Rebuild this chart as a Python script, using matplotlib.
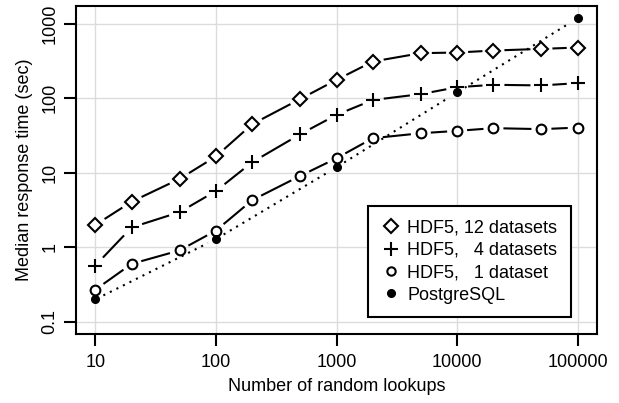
import numpy as np
import matplotlib
matplotlib.use('Agg')
import matplotlib.pyplot as plt
from matplotlib.lines import Line2D

plt.rcParams['font.family'] = ['Liberation Sans', 'DejaVu Sans']
plt.rcParams['font.size'] = 13

# data
lookups = [10, 20, 50, 100, 200, 500, 1000, 2000, 5000, 10000, 20000, 50000, 100000]
hdf5_12 = [2.0, 4.1, 8.3, 16.6, 45, 98, 177, 312, 404, 412, 438, 461, 481]
hdf5_4 = [0.57, 1.85, 2.97, 5.7, 13.9, 33, 60, 95, 114, 141, 152, 149, 160]
hdf5_1 = [0.27, 0.60, 0.91, 1.68, 4.3, 9.1, 15.7, 29.2, 34, 36.6, 39.8, 38.6, 40.5]
pg_lookups = [10, 100, 1000, 10000, 100000]
pg = [0.20, 1.29, 11.9, 120, 1192]

labels = ['HDF5, 12 datasets', 'HDF5,   4 datasets', 'HDF5,   1 dataset', 'PostgreSQL']
xticks = [10, 100, 1000, 10000, 100000]
yticks = [0.1, 1, 10, 100, 1000]

fig = plt.figure(figsize=(6.19, 4.03), dpi=100)
ax = fig.add_axes([0.1228, 0.1712, 0.8417, 0.8139])
ax.set_xscale('log')
ax.set_yscale('log')

# R style limits: data range plus 4% on each side (in log space)
def padded(lo, hi):
    a, b = np.log10(lo), np.log10(hi)
    p = (b - a) * 0.04
    return 10 ** (a - p), 10 ** (b + p)

ax.set_xlim(*padded(min(lookups), max(lookups)))
ax.set_ylim(*padded(0.1, max(pg)))

ax.grid(True, color='#dcdcdc', linewidth=1)
ax.set_axisbelow(True)


def gapped(xs, ys, gap, **kw):
    # like R type="b": segments stop short of the points
    pts = ax.transData.transform(np.column_stack([xs, ys]))
    inv = ax.transData.inverted()
    for p0, p1 in zip(pts[:-1], pts[1:]):
        d = p1 - p0
        length = np.hypot(d[0], d[1])
        if length <= 2 * gap:
            continue
        u = d / length
        seg = inv.transform([p0 + u * gap, p1 - u * gap])
        ax.plot(seg[:, 0], seg[:, 1], **kw)


lw = 1.5
gapped(lookups, hdf5_12, 11, color='black', lw=lw, solid_capstyle='butt', zorder=3)
gapped(lookups, hdf5_4, 11, color='black', lw=lw, solid_capstyle='butt', zorder=3)
gapped(lookups, hdf5_1, 10, color='black', lw=lw, solid_capstyle='butt', zorder=3)
gapped(pg_lookups, pg, 9, color='black', lw=1.5, linestyle=(0, (1, 2.5)), zorder=3)

ax.plot(lookups, hdf5_12, ls='none', marker='D', ms=7.5, mfc='white', mec='black', mew=1.5, zorder=4)
ax.plot(lookups, hdf5_4, ls='none', marker='+', ms=10.5, mec='black', mew=1.5, zorder=4)
ax.plot(lookups, hdf5_1, ls='none', marker='o', ms=7, mfc='white', mec='black', mew=1.5, zorder=4)
ax.plot(pg_lookups, pg, ls='none', marker='o', ms=5.5, mfc='black', mec='black', zorder=5)

# axes and ticks
for s in ax.spines.values():
    s.set_linewidth(1.5)
ax.set_xticks(xticks)
ax.set_xticklabels([str(t) for t in xticks])
ax.set_yticks(yticks)
ax.set_yticklabels(['0.1', '1', '10', '100', '1000'], rotation=90, va='center')
ax.minorticks_off()
ax.tick_params(direction='out', length=8.5, width=1.5, labelsize=13)
ax.tick_params(axis='x', pad=6)
ax.tick_params(axis='y', pad=4)

ax.set_xlabel('Number of random lookups', fontsize=13, labelpad=5)
ax.set_ylabel('Median response time (sec)', fontsize=13, labelpad=6)

# legend, markers only
handles = [
    Line2D([], [], ls='none', marker='D', ms=7, mfc='white', mec='black', mew=1.5),
    Line2D([], [], ls='none', marker='+', ms=10, mec='black', mew=1.5),
    Line2D([], [], ls='none', marker='o', ms=6, mfc='white', mec='black', mew=1.5),
    Line2D([], [], ls='none', marker='o', ms=5.5, mfc='black', mec='black'),
]
leg = ax.legend(handles, labels, loc='lower right', bbox_to_anchor=(0.9495, 0.051),
                borderaxespad=0, fancybox=False, framealpha=1, edgecolor='black',
                handlelength=1.0, handletextpad=0.4, labelspacing=0.3,
                borderpad=0.75, fontsize=13)
leg.get_frame().set_linewidth(1.5)
leg.set_zorder(10)

fig.savefig('out.png', dpi=100)
